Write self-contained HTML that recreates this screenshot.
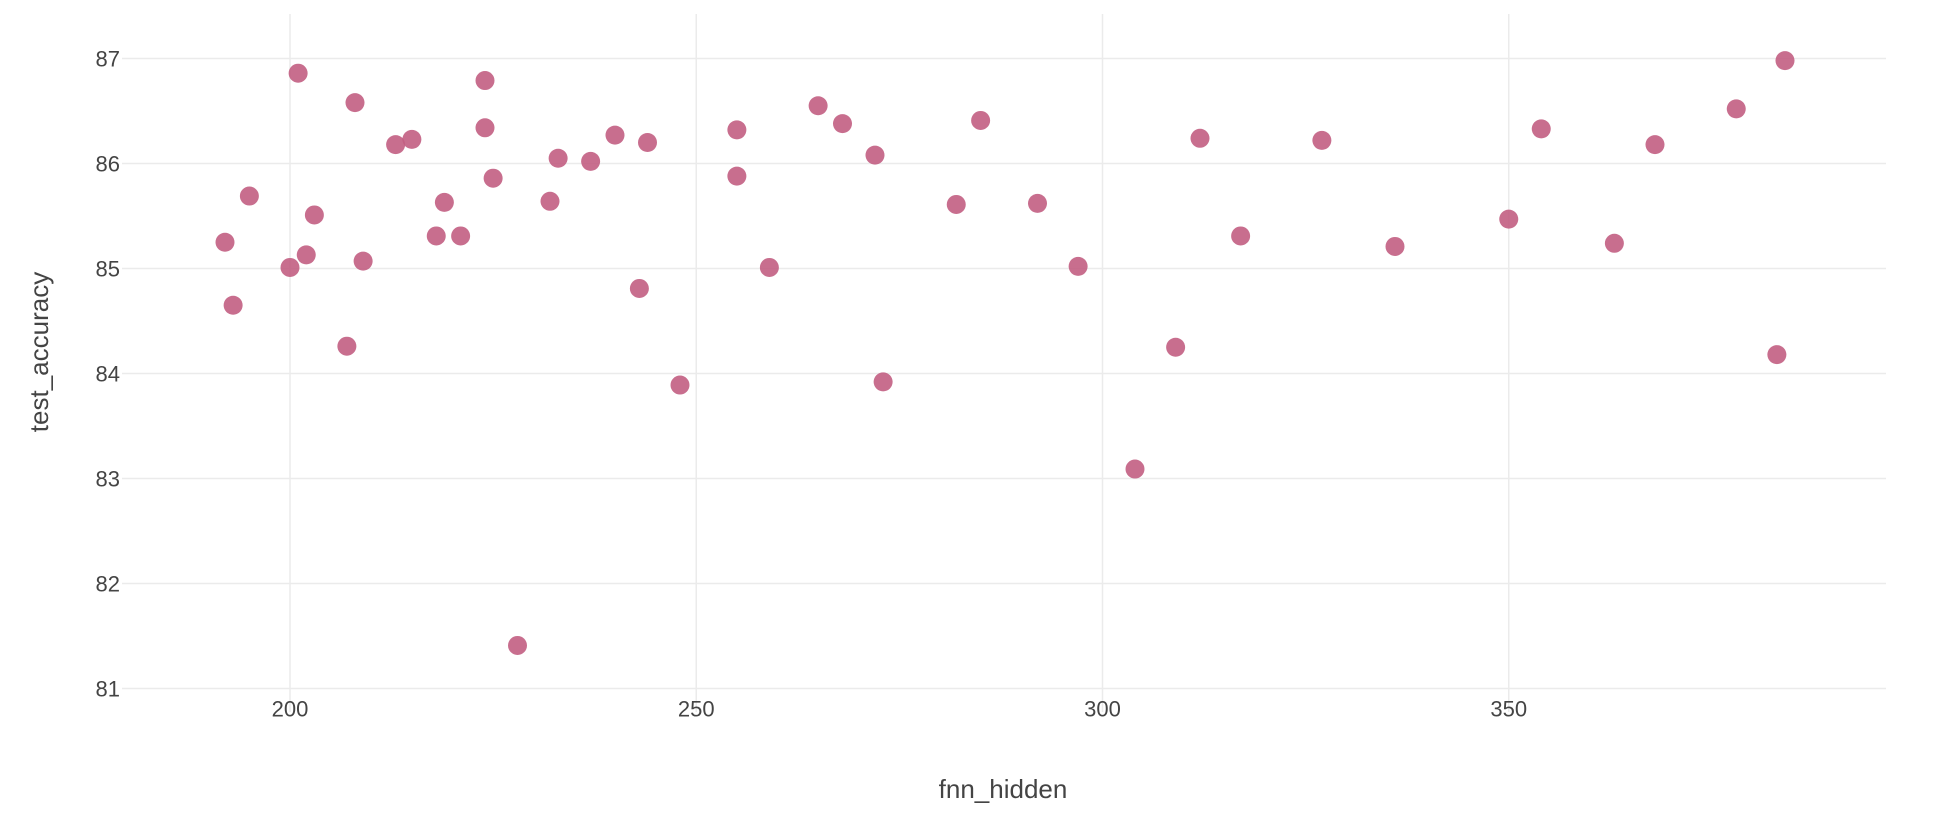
<!DOCTYPE html>
<html><head><meta charset="utf-8"><style>
html,body{margin:0;padding:0;background:#fff;}
svg text{font-family:"Liberation Sans",sans-serif;fill:#444;}
</style></head><body>
<svg id="chart" width="1960" height="824" xmlns="http://www.w3.org/2000/svg">
<g id="grid"></g>
<g id="ticks"></g>
<g id="pts"></g>
<text x="1003" y="798" font-size="26" text-anchor="middle">fnn_hidden</text>
<text transform="translate(48,352) rotate(-90)" font-size="26" text-anchor="middle">test_accuracy</text>
</svg>
<script>
const xTicks=[200,250,300,350];
const yTicks=[81,82,83,84,85,86,87];
const fnnHidden=[192,193,195,200,201,202,203,207,208,209,213,215,218,219,221,224,224,225,228,232,233,237,240,243,244,248,255,255,259,265,268,272,273,282,285,292,297,304,309,312,317,327,336,350,354,363,368,378,383,384];
const testAccuracy=[85.25,84.65,85.69,85.01,86.86,85.13,85.51,84.26,86.58,85.07,86.18,86.23,85.31,85.63,85.31,86.79,86.34,85.86,81.41,85.64,86.05,86.02,86.27,84.81,86.2,83.89,86.32,85.88,85.01,86.55,86.38,86.08,83.92,85.61,86.41,85.62,85.02,83.09,84.25,86.24,85.31,86.22,85.21,85.47,86.33,85.24,86.18,86.52,84.18,86.98];
const L=122,R=1886,T=14,B=712;
const sx=v=>290+(v-200)*8.125;
const sy=v=>58.5+(87-v)*105;
const NS="http://www.w3.org/2000/svg";
const grid=document.getElementById('grid'),ticks=document.getElementById('ticks'),pts=document.getElementById('pts');
xTicks.forEach(t=>{
  const l=document.createElementNS(NS,'line');
  l.setAttribute('x1',sx(t));l.setAttribute('x2',sx(t));l.setAttribute('y1',T);l.setAttribute('y2',B);
  l.setAttribute('stroke','#ebebeb');l.setAttribute('stroke-width','1.5');
  
  
  grid.appendChild(l);
  const tx=document.createElementNS(NS,'text');
  tx.setAttribute('x',sx(t));tx.setAttribute('y',sy(81)+28);tx.setAttribute('font-size','22');tx.setAttribute('text-anchor','middle');
  tx.textContent=t;
  
  
  ticks.appendChild(tx);
});
yTicks.forEach(t=>{
  const l=document.createElementNS(NS,'line');
  l.setAttribute('x1',L);l.setAttribute('x2',R);l.setAttribute('y1',sy(t));l.setAttribute('y2',sy(t));
  l.setAttribute('stroke','#ebebeb');l.setAttribute('stroke-width','1.5');
  
  
  grid.appendChild(l);
  const tx=document.createElementNS(NS,'text');
  tx.setAttribute('x',L-2);tx.setAttribute('y',sy(t)+8);tx.setAttribute('font-size','22');tx.setAttribute('text-anchor','end');
  tx.textContent=t;
  
  
  ticks.appendChild(tx);
});
fnnHidden.forEach((x,i)=>{
  const c=document.createElementNS(NS,'circle');
  c.setAttribute('cx',sx(x));c.setAttribute('cy',sy(testAccuracy[i]));c.setAttribute('r','9.5');
  c.setAttribute('fill','#c25e82');c.setAttribute('fill-opacity','0.9');
  
  
  pts.appendChild(c);
});
</script>
</body></html>
